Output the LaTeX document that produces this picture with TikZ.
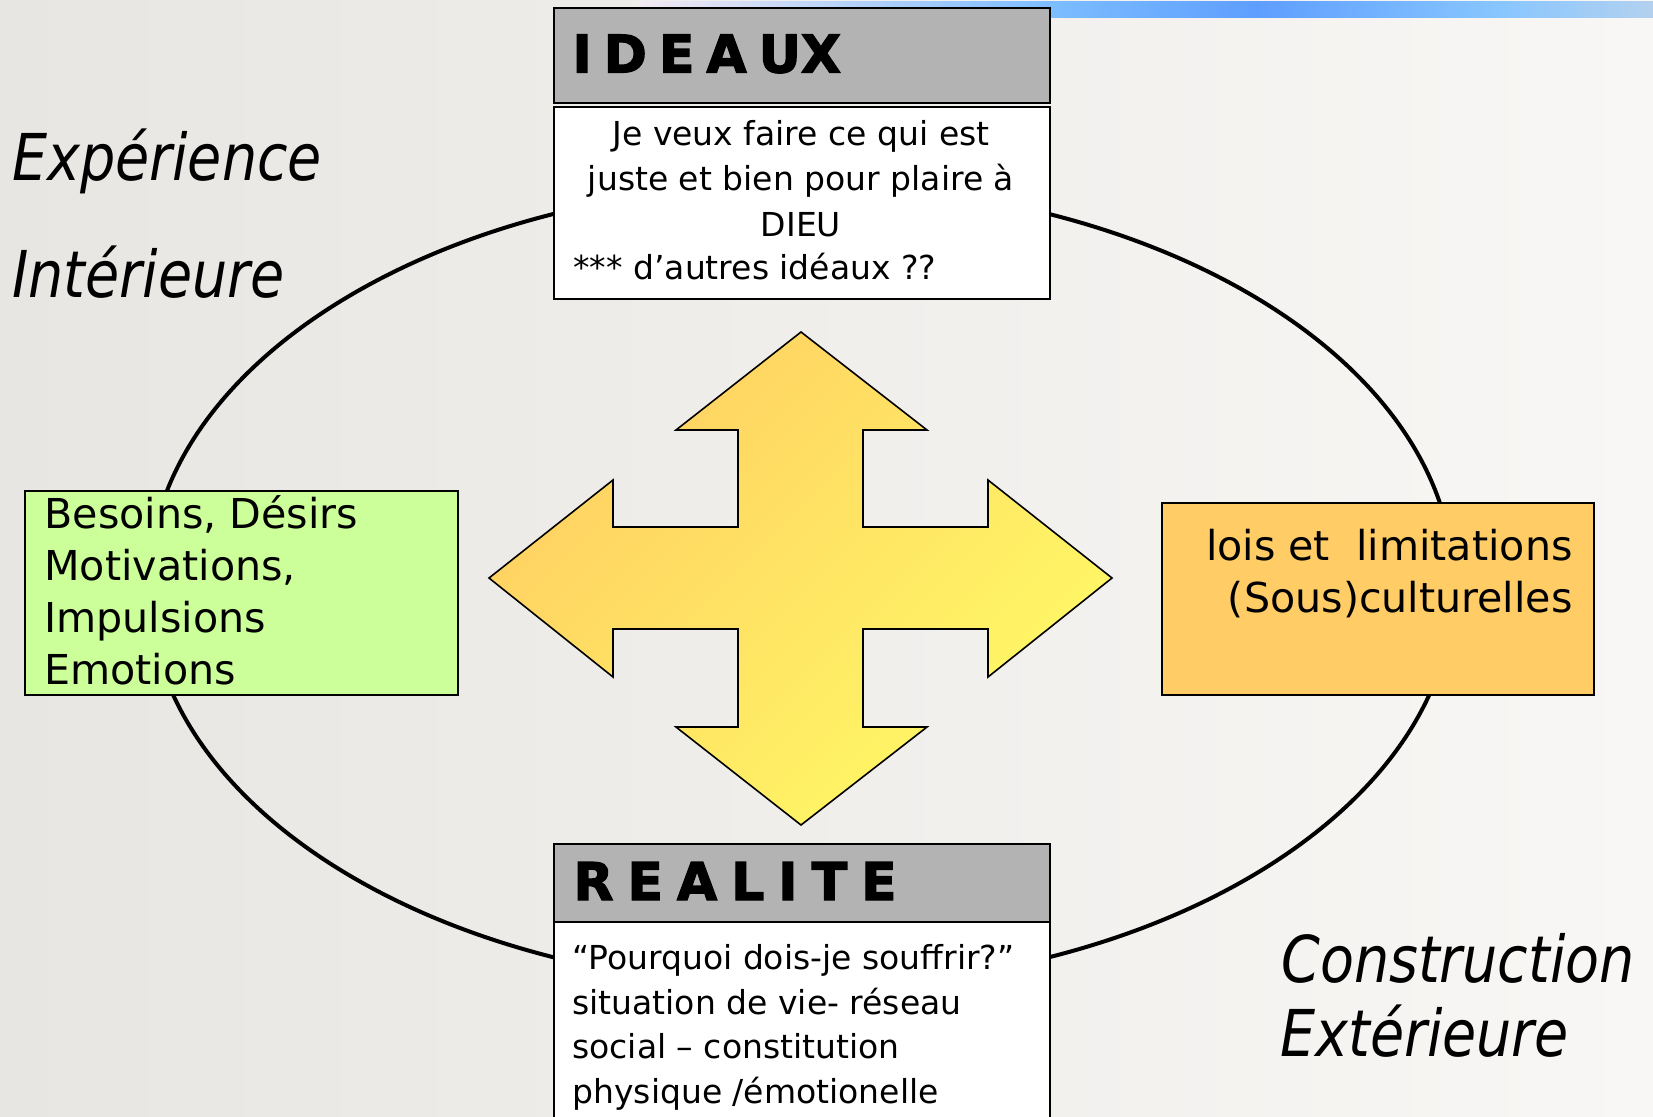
\documentclass[tikz,border=0pt]{standalone}
\usepackage{fontspec}
\setmainfont{DejaVu Sans}
\newfontfamily\condfont{DejaVu Sans Condensed}[FakeStretch=0.955]
\newfontfamily\heavyfont{DejaVu Sans}[BoldFeatures={FakeBold=2.5}]
\newcommand\hgap{\hspace{7pt}}
\newcommand\igap{\hspace{6pt}}
\definecolor{hdrgray}{HTML}{B3B3B3}
\definecolor{greenbox}{HTML}{CCFF99}
\definecolor{orangebox}{HTML}{FFCC66}
\definecolor{crossA}{HTML}{FFCF62}
\definecolor{crossB}{HTML}{FFFA66}
\definecolor{bgL}{HTML}{E8E6E2}
\definecolor{bgR}{HTML}{F8F7F5}
\definecolor{blueA}{HTML}{F2E8F2}
\definecolor{blueB}{HTML}{7DBDFF}
\definecolor{blueC}{HTML}{5E9EFF}
\definecolor{blueD}{HTML}{88C6FF}
\definecolor{blueE}{HTML}{B3D1EF}
\begin{document}
\begin{tikzpicture}[x=0.5pt,y=-0.5pt,
  box/.style={draw=black, line width=1pt, inner sep=0pt, anchor=north west},
  hdrbox/.style={box, line width=1.1pt, fill=hdrgray, minimum width=248pt},
  bodytxt/.style={inner sep=0pt, font=\fontsize{16.5pt}{20pt}\selectfont},
  bigtxt/.style={inner sep=0pt, font=\fontsize{20.6pt}{24pt}\selectfont},
  hdrtxt/.style={inner sep=0pt, anchor=base west, font=\heavyfont\bfseries\fontsize{26pt}{30pt}\selectfont},
  ittxt/.style={inner sep=0pt, anchor=base west, font=\condfont\itshape\fontsize{32.3pt}{36pt}\selectfont}
]
\useasboundingbox (0,0) rectangle (1653,1116);
% background
\shade[left color=bgL, right color=bgR] (0,0) rectangle (1653,1116);
% top blue bar
\shade[left color=blueA, right color=blueB] (640,1) rectangle (1049,17);
\shade[left color=blueB, right color=blueC] (1048,1) rectangle (1258,17);
\shade[left color=blueC, right color=blueD] (1257,1) rectangle (1500,17);
\shade[left color=blueD, right color=blueE] (1499,1) rectangle (1653,17);
% ellipse
\draw[line width=2pt] (801.2,585.6) ellipse [x radius=652.5, y radius=401.6];
% four-way arrow
\path[draw=black, line width=0.8pt, left color=crossA, right color=crossB, shading angle=45]
  (801,332) -- (927,430) -- (863,430) -- (863,527) -- (988,527) -- (988,480)
  -- (1112,578) -- (988,677) -- (988,629) -- (863,629) -- (863,727) -- (927,727)
  -- (801,825) -- (676,727) -- (738,727) -- (738,629) -- (613,629) -- (613,677)
  -- (489,578) -- (613,480) -- (613,527) -- (738,527) -- (738,430) -- (676,430) -- cycle;
% IDEAUX
\node[hdrbox, minimum height=47.5pt] (ideauxhead) at (553,7) {};
\node[box, fill=white, minimum width=248pt, minimum height=96pt] (ideauxbody) at (553,106) {};
\node[hdrtxt] (ideauxtitle) at (572,72.5) {I\igap D\igap E\igap A\igap UX};
\node[bodytxt, anchor=base] (id1) at (801,145.7) {Je veux faire ce qui est};
\node[bodytxt, anchor=base] (id2) at (801,190.8) {juste et bien pour plaire à};
\node[bodytxt, anchor=base] (id3) at (801,236) {DIEU};
\node[bodytxt, anchor=base west] (id4) at (573,279) {*** d’autres idéaux ??};
% REALITE
\node[hdrbox, minimum height=39pt] (realitehead) at (553,843) {};
\node[box, fill=white, minimum width=248pt, minimum height=102pt] (realitebody) at (553,921) {};
\node[hdrtxt] (realitetitle) at (573,900) {R\hgap E\hgap A\hgap L\hgap I\hgap T\hgap E};
\node[bodytxt, anchor=base west] (re1) at (572,969) {“Pourquoi dois-je souffrir?”};
\node[bodytxt, anchor=base west] (re2) at (572,1014) {situation de vie- réseau};
\node[bodytxt, anchor=base west] (re3) at (572,1058) {social – constitution};
\node[bodytxt, anchor=base west] (re4) at (572,1103) {physique /émotionelle};
% green box
\node[box, fill=greenbox, minimum width=216.25pt, minimum height=102pt] (besoins) at (24,490) {};
\node[bigtxt, anchor=base west] (g1) at (44,528) {Besoins, Désirs};
\node[bigtxt, anchor=base west] (g2) at (44,580.5) {Motivations,};
\node[bigtxt, anchor=base west] (g3) at (44,632) {Impulsions};
\node[bigtxt, anchor=base west] (g4) at (44,684.5) {Emotions};
% orange box
\node[box, fill=orangebox, minimum width=216pt, minimum height=96pt] (lois) at (1161,502) {};
\node[bigtxt, anchor=base east] (o1) at (1573,560) {lois et\ \ limitations};
\node[bigtxt, anchor=base east] (o2) at (1573,612) {(Sous)culturelles};
% italic labels
\node[ittxt] (exp) at (12,180) {Expérience};
\node[ittxt] (inter) at (12,297) {Intérieure};
\node[ittxt] (constr) at (1281,982) {Construction};
\node[ittxt] (ext) at (1280,1056) {Extérieure};
\end{tikzpicture}
\end{document}
